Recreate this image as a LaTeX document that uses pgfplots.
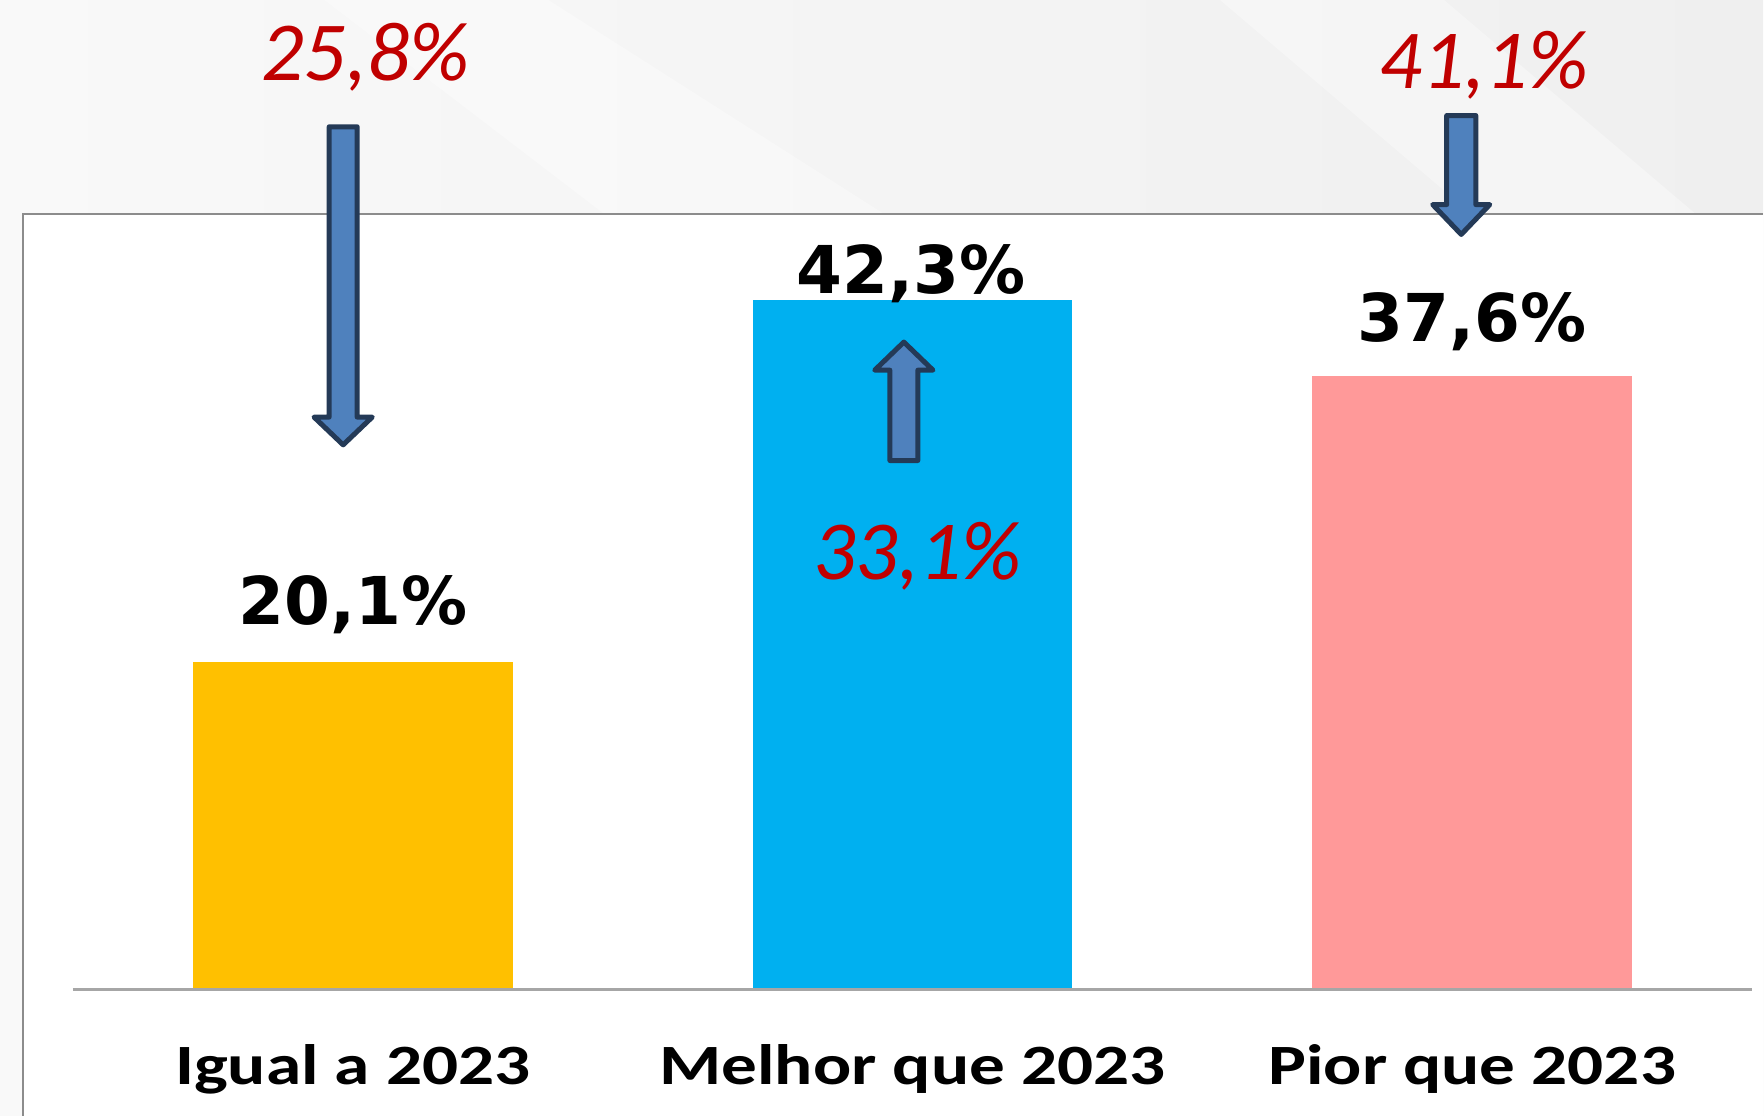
\documentclass[border=0pt]{standalone}
\usepackage{pgfplots}
\pgfplotsset{compat=1.18}
\usepackage{fontspec}
\newfontfamily\dvfont{DejaVu Sans}
\newfontfamily\catfont[FakeStretch=1.25]{Carlito}
\newfontfamily\calfont{Carlito}
\definecolor{cyellow}{HTML}{FFC000}
\definecolor{cblue}{HTML}{00B0F0}
\definecolor{cpink}{HTML}{FF9999}
\definecolor{cred}{HTML}{C00000}
\definecolor{afill}{HTML}{4F81BD}
\definecolor{aline}{HTML}{243A57}
\definecolor{bgA}{HTML}{F9F9F9}
\definecolor{bgB}{HTML}{EFEFEF}
\definecolor{pborder}{HTML}{8C8C8C}
\definecolor{baseln}{HTML}{A6A6A6}
\begin{document}
\begin{tikzpicture}
\begin{axis}[
  scale only axis, width=882pt, height=558pt,
  xmin=-0.6304, xmax=2.5196, ymin=-7.721, ymax=60.662,
  axis on top,
  axis line style={draw=none}, major tick length=0pt,
  xtick={0,1,2},
  xticklabels={Igual a 2023, Melhor que 2023, Pior que 2023},
  ytick=\empty,
  xticklabel style={font=\catfont\bfseries\fontsize{28.5}{34}\selectfont, anchor=base, yshift=15.5pt, inner sep=0pt},
  clip=false,
]
% background
\shade[left color=bgA, right color=bgB] (axis cs:-0.6304,-7.721) rectangle (axis cs:2.5196,60.662);
\fill[white, opacity=0.35] (axis cs:-0.05,60.662) -- (axis cs:0.35,60.662) -- (axis cs:0.95,47.53) -- (axis cs:0.45,47.53) -- cycle;
\fill[white, opacity=0.35] (axis cs:1.55,60.662) -- (axis cs:1.95,60.662) -- (axis cs:2.4,47.53) -- (axis cs:2.0,47.53) -- cycle;
% white panel
\fill[white] (axis cs:-0.5898,-7.721) rectangle (axis cs:2.5196,47.53);
\draw[pborder, line width=1pt] (axis cs:-0.5898,-7.721) -- (axis cs:-0.5898,47.53) -- (axis cs:2.5196,47.53);
% bars
\addplot[ybar, bar width=160pt, bar shift=0pt, fill=cyellow, draw=none] coordinates {(0,20.1)};
\addplot[ybar, bar width=160pt, bar shift=0pt, fill=cblue, draw=none] coordinates {(1,42.3)};
\addplot[ybar, bar width=160pt, bar shift=0pt, fill=cpink, draw=none] coordinates {(2,37.6)};
% baseline
\draw[baseln, line width=1.5pt] (axis cs:-0.5,0) -- (axis cs:2.5,0);
% arrows
\filldraw[fill=afill, draw=aline, line width=2.5pt, line join=round]
  (axis cs:-0.0423,52.9) -- (axis cs:0.0077,52.9) -- (axis cs:0.0077,35.1) -- (axis cs:0.0347,35.1)
  -- (axis cs:-0.0173,33.4) -- (axis cs:-0.0693,35.1) -- (axis cs:-0.0423,35.1) -- cycle;
\filldraw[fill=afill, draw=aline, line width=2.5pt, line join=round]
  (axis cs:1.9544,53.59) -- (axis cs:2.0064,53.59) -- (axis cs:2.0064,48.13) -- (axis cs:2.0314,48.13)
  -- (axis cs:1.9804,46.3) -- (axis cs:1.9294,48.13) -- (axis cs:1.9544,48.13) -- cycle;
\filldraw[fill=afill, draw=aline, line width=2.5pt, line join=round]
  (axis cs:0.9595,32.44) -- (axis cs:1.0095,32.44) -- (axis cs:1.0095,37.98) -- (axis cs:1.0365,37.98)
  -- (axis cs:0.9845,39.7) -- (axis cs:0.9325,37.98) -- (axis cs:0.9595,37.98) -- cycle;
% data labels
\node[anchor=base, inner sep=0pt, font=\dvfont\bfseries\fontsize{33}{40}\selectfont] at (axis cs:0,22.37) {20,1\%};
\node[anchor=base, inner sep=0pt, font=\dvfont\bfseries\fontsize{33}{40}\selectfont] at (axis cs:0.998,42.69) {42,3\%};
\node[anchor=base, inner sep=0pt, font=\dvfont\bfseries\fontsize{33}{40}\selectfont] at (axis cs:2,39.72) {37,6\%};
% red labels
\node[anchor=base, inner sep=0pt, text=cred, font=\calfont\itshape\fontsize{42}{50}\selectfont] at (axis cs:0.0223,55.76) {25,8\%};
\node[anchor=base, inner sep=0pt, text=cred, font=\calfont\itshape\fontsize{42}{50}\selectfont] at (axis cs:2.021,55.25) {41,1\%};
\node[anchor=base, inner sep=0pt, text=cred, font=\calfont\itshape\fontsize{42}{50}\selectfont] at (axis cs:1.009,25.12) {33,1\%};
\end{axis}
\end{tikzpicture}
\end{document}
